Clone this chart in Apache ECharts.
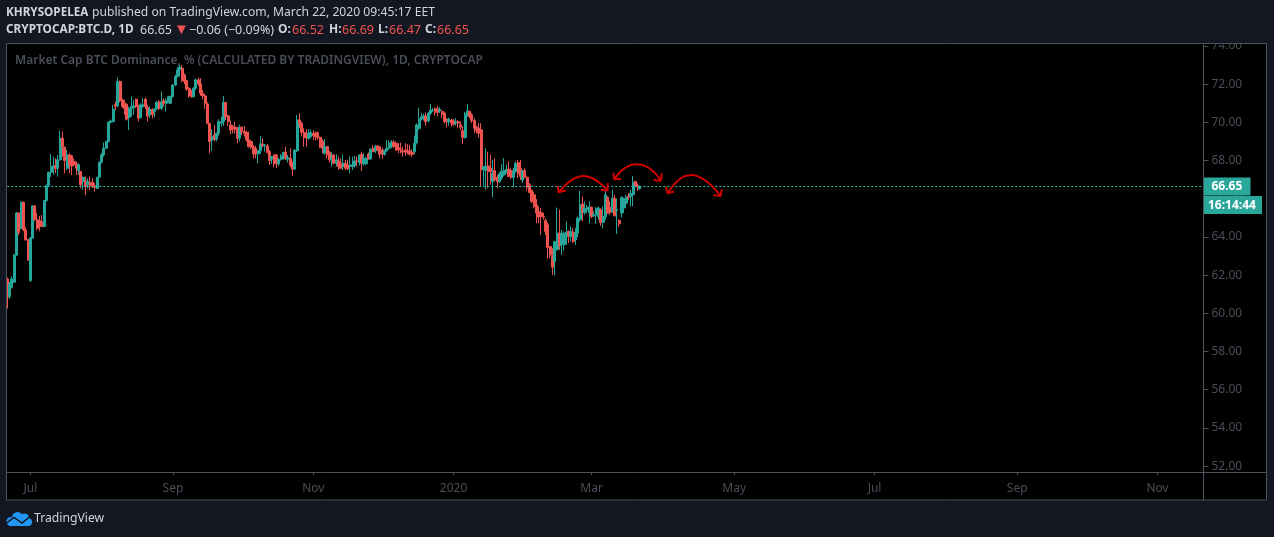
<!DOCTYPE html>
<html><head><meta charset="utf-8">
<style>html,body{margin:0;padding:0;background:#131722}#c{width:1274px;height:537px}</style>
<script src="https://cdn.jsdelivr.net/npm/echarts@6/dist/echarts.min.js"></script>
</head><body><div id="c"></div>
<script>
// Daily candles, each row: [open, close, low, high]. First candle is 2019-06-21.
const candles2019Summer = [
[61.80,60.85,60.25,61.87],[60.88,61.55,60.75,61.65],[61.35,61.8,61.3,61.95],[61.63,63.06,61.6,63.1],[63.06,65.25,63.0,65.3],
[65.25,64.23,64.1,65.3],[64.46,65.82,64.4,65.85],[65.82,64.37,64.3,65.85],[64.37,63.85,63.8,64.5],[63.85,62.8,62.75,63.9],
[61.72,63.94,61.65,64.0],[63.94,65.63,63.9,65.65],[65.63,64.9,64.85,65.65],[64.9,64.46,64.35,65.25],[64.85,64.55,64.3,65.1],
[64.8,64.55,64.55,65.15],[64.55,65.91,64.5,65.95],[65.91,66.68,65.85,66.75],[66.68,67.39,66.6,67.42],[67.39,67.69,67.15,68.35],
[67.65,67.72,67.25,68.2],[67.74,67.58,67.34,68.12],[67.6,68.04,67.16,68.3],[68.04,69.17,68.0,69.57],[69.17,68.74,68.21,69.52],
[68.68,68.0,67.34,68.75],[67.6,68.3,67.51,68.56],[68.3,67.78,67.34,68.39],[68.25,67.72,67.25,68.3],[67.95,67.78,67.69,68.12],
[67.83,67.6,67.25,67.95],[67.48,67.78,67.25,67.86],[67.43,66.73,66.55,67.45],[66.9,67.13,66.47,67.17],[66.95,66.64,66.2,67.17],
[66.73,66.9,66.55,67.08],[66.85,66.68,66.47,67.17],[66.85,66.68,66.55,67.08],[66.68,66.6,66.38,66.82],[66.55,67.13,66.5,67.15],
[67.13,67.92,67.1,67.95],[67.92,68.3,67.85,68.4],[68.3,68.65,68.2,68.95],[68.65,69.0,68.6,69.05],[69.0,70.01,68.95,70.05],
[70.01,70.08,69.95,70.15],[70.04,70.7,70.0,70.92],[70.95,70.83,70.65,71.1],[70.88,72.14,70.8,72.35],[72.14,71.13,71.05,72.2],
[71.18,70.83,70.75,71.25],[71.0,70.74,70.4,71.18],[70.95,70.17,70.1,71.0],[70.27,70.74,69.6,70.83],[70.74,70.83,70.3,71.35],
[70.78,70.87,70.4,71.18],[71.21,70.83,70.75,71.25],[70.83,70.22,70.05,70.92],[70.25,70.92,70.2,71.0],[70.83,70.92,70.75,71.27],
[71.21,70.83,70.7,71.3],[70.78,70.34,70.05,70.92],[70.4,70.69,70.22,70.83],[70.69,70.4,70.22,70.74],[70.57,70.69,70.27,70.74],
[70.71,71.05,70.65,71.13],[71.07,70.74,70.65,71.18],[70.74,71.05,70.65,71.62],[71.13,71.0,70.83,71.27],[71.0,71.13,70.57,71.27],
[71.04,71.35,71.0,71.4],[71.0,71.35,70.95,71.4],[71.35,71.96,71.3,72.0],[71.96,72.4,71.9,72.5],[72.4,72.75,72.35,72.9],
[72.75,72.89,72.4,73.02],[72.84,72.19,72.1,73.0],[72.49,72.14,72.0,72.55],[72.19,71.74,71.65,72.2],[71.79,71.39,71.3,71.85],
[71.62,71.35,71.3,71.7],[71.35,71.79,71.3,71.85],[71.79,72.23,71.7,72.3],[72.23,72.02,71.9,72.35],[72.02,71.53,71.4,72.32],
[71.53,71.39,71.2,71.7],[71.39,71.0,70.7,71.5],[70.97,69.96,69.9,71.05]
];
const candles2019Autumn = [
[69.95,69.0,68.38,69.98],[69.08,69.26,68.5,69.64],[69.34,69.12,69.0,69.87],[69.12,69.43,69.0,69.47],[69.43,70.04,69.3,70.16],
[69.96,70.04,69.78,70.3],[70.04,71.05,69.82,71.39],[71.04,70.3,70.13,71.06],[70.34,70.04,69.82,70.4],[69.87,69.6,69.38,70.09],
[69.78,69.64,69.43,69.87],[69.75,69.64,69.43,70.04],[69.69,69.17,68.91,69.75],[69.17,69.75,69.0,69.87],[69.75,69.52,69.34,69.78],
[69.52,69.43,69.26,69.82],[69.47,69.08,69.0,69.57],[69.08,68.73,68.68,69.52],[69.0,68.7,68.6,69.1],[68.7,68.35,68.12,68.82],
[68.65,68.35,68.12,68.77],[68.35,68.52,67.86,68.56],[68.52,68.87,68.35,69.29],[68.87,68.77,68.7,69.17],[68.77,68.82,68.47,68.87],
[68.77,68.42,68.38,68.87],[68.47,68.0,67.77,68.56],[68.07,68.21,67.83,68.24],[68.3,67.83,67.65,68.32],[68.3,67.83,67.6,68.35],
[67.83,68.07,67.72,68.12],[68.07,68.24,68.0,68.35],[68.12,68.42,68.05,68.47],[68.45,68.12,68.03,68.73],[68.07,68.16,67.9,68.3],
[68.12,67.77,67.65,68.65],[67.77,67.55,67.2,67.95],[67.56,68.56,67.5,68.58],[68.52,70.13,68.45,70.39],[70.13,69.95,69.7,70.48],
[69.95,69.48,69.26,70.04],[69.47,69.2,68.73,69.69],[69.43,69.2,68.73,69.64],[69.17,69.4,69.08,69.64],[69.26,69.47,69.17,69.64],
[69.43,69.31,69.08,69.6],[69.43,69.26,69.05,69.52],[69.47,69.2,69.08,69.52],[69.22,68.7,68.65,69.26],[69.0,68.65,68.38,69.12],
[68.38,68.73,68.3,69.12],[68.73,68.3,68.12,68.77]
];
const candles2019Winter = [
[68.44,68.04,67.9,68.5],[68.04,68.13,67.69,68.44],[68.3,67.86,67.8,68.32],[67.86,68.04,67.69,68.33],[67.98,67.69,67.51,68.21],
[67.86,67.6,67.57,68.12],[67.69,67.86,67.51,68.33],[67.86,67.6,67.51,68.04],[67.77,67.57,67.5,68.04],[67.69,67.77,67.34,68.21],
[67.69,67.77,67.51,68.21],[67.74,67.98,67.64,68.25],[67.98,67.95,67.69,68.21],[67.91,68.3,67.74,68.33],[68.33,67.86,67.46,68.47],
[67.83,68.12,67.74,68.39],[67.83,68.12,67.78,68.2],[68.33,68.09,68.04,68.42],[68.09,68.6,68.04,68.65],[68.65,68.47,68.44,68.82],
[68.51,68.73,68.39,68.82],[68.77,68.56,68.5,68.82],[68.73,68.33,68.12,68.75],[68.56,68.33,68.09,68.68],[68.33,68.51,68.26,68.56],
[68.51,68.65,68.47,69.08],[68.65,68.91,68.56,69.08],[68.73,68.96,68.65,69.08],[68.96,68.73,68.68,69.08],[68.91,68.56,68.5,69.0],
[68.68,68.56,68.39,68.91],[68.61,68.56,68.39,68.94],[68.51,68.44,68.21,68.73],[68.56,68.44,68.26,68.91],[68.51,68.44,68.33,68.86],
[68.51,68.33,68.26,68.82],[68.42,68.33,68.2,68.6],[68.47,68.91,68.33,69.31],[68.94,69.87,68.85,69.95],[69.69,70.18,69.6,70.78],
[70.18,70.3,70.1,70.5],[70.22,70.34,70.1,70.45],[70.34,70.04,69.83,70.53],[70.08,70.48,70.0,70.55],[70.48,70.65,70.4,70.97],
[70.62,70.65,70.55,70.75],[70.71,70.53,70.36,70.78],[70.71,70.53,70.31,70.86],[70.6,70.69,70.5,70.8],[70.57,70.43,70.22,70.64],
[70.48,70.04,69.95,70.57],[70.18,70.04,69.73,70.22],[70.04,70.17,69.83,70.25],[70.13,69.96,69.78,70.18],[70.08,69.9,69.83,70.18],
[69.96,70.04,69.83,70.22],[70.04,69.96,69.7,70.13],[69.87,69.75,69.61,70.04],[69.57,69.21,68.87,69.78]
];
const candles2020 = [
[69.21,70.45,69.15,70.55],[70.45,70.6,70.3,70.97],[70.57,70.31,70.22,70.62],[70.4,70.1,69.96,70.48],[70.1,69.7,69.43,70.22],
[69.75,69.57,69.43,69.82],[69.7,69.43,69.21,69.96],[69.61,67.52,66.64,69.96],[67.52,67.69,66.68,67.72],[67.48,67.72,66.47,68.65],
[67.72,67.43,66.55,68.47],[67.6,67.43,66.73,68.3],[66.9,67.34,66.08,68.04],[67.48,66.99,66.9,68.13],[67.13,66.9,66.55,67.25],
[66.9,67.31,66.82,67.38],[67.08,67.46,66.99,67.83],[67.25,67.48,67.17,68.13],[67.43,67.55,67.34,67.78],[67.55,67.17,67.13,67.95],
[67.48,67.13,67.03,67.6],[67.13,67.43,66.61,67.6],[67.43,67.86,67.35,67.95],[67.9,67.31,67.08,68.04],[67.6,67.17,66.99,68.04],
[66.99,67.48,66.82,67.51],[67.48,67.13,67.08,67.6],[67.13,66.61,66.43,67.17],[66.73,66.33,66.29,66.82],[66.43,65.86,65.77,66.5],
[66.21,65.6,65.51,66.38],[65.68,65.25,64.72,65.98],[65.33,65.04,64.72,65.6],[65.28,65.07,64.11,65.51],[65.07,65.04,64.9,65.25],
[64.86,64.29,64.11,64.98],[64.64,63.45,62.89,64.76],[63.5,63.07,62.89,63.5],[63.07,62.42,62.02,63.41],[62.72,63.76,61.98,63.8],
[63.33,64.2,63.29,65.54],[64.2,63.54,63.33,65.42],[63.59,64.2,63.07,64.37],[63.59,64.2,63.29,64.29],[64.02,64.25,63.59,64.81],
[64.29,64.06,63.68,64.34],[64.02,64.29,63.76,64.55],[64.25,63.76,63.68,64.46],[63.85,64.2,63.59,64.46],[64.2,64.98,63.99,65.07],
[64.9,65.68,64.81,66.42],[65.73,65.28,64.81,66.12],[65.28,65.51,65.16,65.86],[65.42,65.56,65.25,65.68],[65.28,65.56,64.72,65.86],
[65.56,65.07,64.98,65.6],[65.11,65.16,65.04,65.33],[65.16,65.51,64.69,65.56],[65.07,65.51,64.9,65.6],[65.42,64.76,64.58,65.51],
[64.76,65.07,64.46,65.6],[65.07,66.21,64.9,66.43],[66.08,65.25,65.21,66.12],[65.54,65.3,65.16,65.86],[65.33,66.03,65.25,66.47],
[66.03,65.11,65.07,66.21],[65.39,65.44,64.16,66.03],[64.86,64.69,64.51,64.93],[65.25,66.08,65.02,66.12],[65.51,66.03,65.25,66.05],
[65.77,66.08,65.51,66.21],[66.15,66.08,65.94,66.29],[66.12,66.29,65.6,66.47],[66.21,66.87,65.6,67.2],[66.9,66.71,66.6,66.95],
[66.71,66.68,66.4,66.8],[66.52,66.65,66.47,66.69]
];
// Time axis: one slot per day from the first candle to the far right edge.
// Future months sit about a day later in the reference's projected time scale.
const firstDay = '2019-06-21';
const dayCount = 521;
const monthLabels = {'2019-07-01':'Jul','2019-09-01':'Sep','2019-11-01':'Nov','2020-01-01':'2020','2020-03-01':'Mar','2020-05-02':'May','2020-07-02':'Jul','2020-09-02':'Sep','2020-11-02':'Nov'};
const priceTicks = [52,54,56,58,60,62,64,66,68,70,72,74];
const lastPrice = 66.65;
const countdownText = '16:14:44';
// Hand-drawn red arrows, as [day index, price] points.
const arcA = [[239.6,66.34],[243.2,66.78],[246.8,67.09],[250.4,67.20],[254.1,67.09],[257.7,66.81],[260.9,66.43]];
const arcB = [[263.8,67.02],[267.1,67.48],[270.4,67.74],[273.6,67.81],[277.2,67.72],[280.9,67.43],[284.1,66.95]];
const arcC = [[287.0,66.29],[290.3,66.81],[293.9,67.16],[297.5,67.25],[301.9,67.08],[306.2,66.68],[310.1,66.15]];
const headA1 = [[239.3,66.68],[239.6,66.34],[242.8,66.43]];
const headA2 = [[258.0,66.47],[260.9,66.43],[261.0,66.81]];
const headB1 = [[263.5,67.37],[263.8,67.02],[266.8,67.04]];
const headB2 = [[280.9,66.99],[284.1,66.95],[284.5,67.34]];
const headC1 = [[286.4,66.64],[287.0,66.29],[289.9,66.38]];
const headC2 = [[306.9,66.20],[310.1,66.15],[310.6,66.50]];

const categories = [];
{ const d0 = Date.parse(firstDay + 'T00:00:00Z');
  for (let i = 0; i < dayCount; i++) categories.push(new Date(d0 + i * 864e5).toISOString().slice(0, 10)); }
const candles = candles2019Summer.concat(candles2019Autumn, candles2019Winter, candles2020);

const UP = '#26a69a', DOWN = '#ef5350', ARROW = '#d00000';
const FRAME = '#50535e', DIM = '#4a4e59', BG = '#131722', HEAD = '#d1d4dc';
const FONT = '"Noto Sans", sans-serif';
const arrowSeries = (pts, smooth) => ({
  type: 'line', xAxisIndex: 1, yAxisIndex: 0, data: pts, smooth: smooth ? 0.4 : false,
  showSymbol: false, symbol: 'none', silent: true, animation: false, z: 6,
  lineStyle: { color: ARROW, width: 2 }
});
const headText = (x, y, text, fill, font) => ({ type: 'text', z: 23, x, y, style: { text, fill, font: font + ' ' + FONT, textVerticalAlign: 'middle' } });

const chart = echarts.init(document.getElementById('c'), null, { renderer: 'canvas' });
chart.setOption({
  animation: false,
  backgroundColor: BG,
  textStyle: { fontFamily: FONT },
  grid: { left: 7.33, right: 70.5, top: 43, bottom: 65, containLabel: false },
  xAxis: [{
    type: 'category', data: categories, boundaryGap: false,
    axisLine: { show: false, onZero: false },
    axisTick: { show: true, length: 3, lineStyle: { color: FRAME }, interval: (i, v) => v in monthLabels },
    axisLabel: { show: true, color: DIM, fontSize: 12, fontFamily: FONT, margin: 11, hideOverlap: false,
      interval: (i, v) => v in monthLabels, formatter: v => monthLabels[v] || '' },
    splitLine: { show: false }
  }, {
    type: 'value', show: false, min: 0, max: dayCount - 1, axisLine: { onZero: false }
  }],
  yAxis: [{
    type: 'value', position: 'right', min: 51.69, max: 74.16, scale: true,
    axisLine: { show: false, onZero: false },
    axisTick: { show: true, length: 5, lineStyle: { color: FRAME }, customValues: priceTicks },
    axisLabel: { show: true, color: DIM, fontSize: 12, fontFamily: FONT, margin: 8, customValues: priceTicks,
      padding: [2, 0, 0, 0], formatter: v => v.toFixed(2) },
    splitLine: { show: false }
  }],
  series: [{
    type: 'candlestick', data: candles, xAxisIndex: 0, yAxisIndex: 0, barWidth: 2.5, clip: false, z: 4,
    itemStyle: { color: UP, color0: DOWN, borderColor: UP, borderColor0: DOWN, borderWidth: 1 },
    markLine: {
      silent: true, symbol: 'none', animation: false,
      lineStyle: { color: '#26c6b8', type: [2, 2], width: 1 },
      data: [{ yAxis: lastPrice }],
      label: { show: true, position: 'end', distance: 0, formatter: lastPrice.toFixed(2),
        backgroundColor: '#2aa79b', color: '#fff', fontWeight: 'bold', fontSize: 12, fontFamily: FONT,
        padding: [3, 8, 3, 8], width: 31, height: 12, lineHeight: 12 }
    }
  },
  arrowSeries(arcA, true), arrowSeries(arcB, true), arrowSeries(arcC, true),
  arrowSeries(headA1), arrowSeries(headA2), arrowSeries(headB1), arrowSeries(headB2), arrowSeries(headC1), arrowSeries(headC2)],
  graphic: [
    { type: 'rect', z: -10, shape: { x: 6.5, y: 43.5, width: 1260, height: 456.5 }, style: { fill: '#000' } },
    { type: 'rect', z: 20, shape: { x: 1204, y: 30, width: 63, height: 13.5 }, style: { fill: BG } },
    { type: 'rect', z: 20, shape: { x: 1204, y: 473, width: 63, height: 26 }, style: { fill: '#000' } },
    { type: 'rect', z: 21, shape: { x: 6.5, y: 43.5, width: 1260, height: 456.5 }, style: { fill: null, stroke: FRAME, lineWidth: 1 } },
    { type: 'line', z: 21, shape: { x1: 1203.5, y1: 43.5, x2: 1203.5, y2: 500 }, style: { stroke: FRAME, lineWidth: 1 } },
    { type: 'line', z: 21, shape: { x1: 6.5, y1: 472.5, x2: 1267, y2: 472.5 }, style: { stroke: FRAME, lineWidth: 1 } },
    { type: 'rect', z: 22, shape: { x: 1204, y: 196, width: 58, height: 18 }, style: { fill: '#2aa79b' } },
    { type: 'text', z: 23, x: 1208, y: 206, style: { text: countdownText, fill: '#fff', font: 'bold 12px ' + FONT, textVerticalAlign: 'middle' } },
    { type: 'text', z: 3, x: 15, y: 61, style: { text: 'Market Cap BTC Dominance, % (CALCULATED BY TRADINGVIEW), 1D, CRYPTOCAP', fill: DIM, font: '600 12px ' + FONT, textVerticalAlign: 'middle' } },
    headText(6, 13, 'KHRYSOPELEA', HEAD, 'bold 11.7px'),
    headText(92, 13, 'published on TradingView.com, March 22, 2020 09:45:17 EET', HEAD, '12.15px'),
    headText(6, 30, 'CRYPTOCAP:BTC.D, 1D', HEAD, 'bold 11.8px'),
    headText(140, 30, '66.65', HEAD, '12.5px'),
    headText(174, 30, '▼', '#ef5350', '15px'),
    headText(189, 30, '−0.06 (−0.09%)', HEAD, '12.5px'),
    headText(278, 30, 'O:', HEAD, 'bold 12px'),
    headText(292, 30, '66.52', '#ef5350', '12.5px'),
    headText(329, 30, 'H:', HEAD, 'bold 12px'),
    headText(342, 30, '66.69', '#ef5350', '12.5px'),
    headText(378, 30, 'L:', HEAD, 'bold 12px'),
    headText(389, 30, '66.47', '#ef5350', '12.5px'),
    headText(425, 30, 'C:', HEAD, 'bold 12px'),
    headText(437, 30, '66.65', '#ef5350', '12.5px'),
    { type: 'circle', z: 23, shape: { cx: 11, cy: 521.5, r: 4.5 }, style: { fill: '#2196f3' } },
    { type: 'circle', z: 23, shape: { cx: 17.5, cy: 517.5, r: 5.5 }, style: { fill: '#2196f3' } },
    { type: 'circle', z: 23, shape: { cx: 24.5, cy: 518, r: 4.5 }, style: { fill: '#2196f3' } },
    { type: 'circle', z: 23, shape: { cx: 28, cy: 522, r: 4 }, style: { fill: '#2196f3' } },
    { type: 'rect', z: 23, shape: { x: 9, y: 519, width: 20, height: 7 }, style: { fill: '#2196f3' } },
    { type: 'polyline', z: 24, shape: { points: [[6, 523.5], [14, 517.5], [22, 523], [30, 516.5]] }, style: { fill: null, stroke: BG, lineWidth: 1.5 } },
    { type: 'text', z: 23, x: 34, y: 519, style: { text: 'TradingView', fill: HEAD, font: '12.2px ' + FONT, textVerticalAlign: 'middle' } }
  ]
});
</script></body></html>
